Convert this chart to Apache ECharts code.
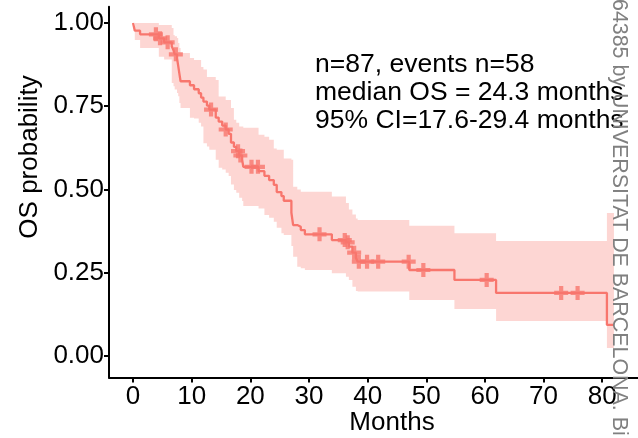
<!DOCTYPE html>
<html>
<head>
<meta charset="utf-8">
<script src="https://cdn.jsdelivr.net/npm/echarts@6/dist/echarts.min.js"></script>
<style>
html,body{margin:0;padding:0;background:#fff;}
#chart{width:638px;height:438px;}
</style>
</head>
<body>
<div id="chart"></div>
<script>
// Kaplan-Meier step times (months) and survival after each step
var kmTimes = [0, 0.3, 1.2, 4.4, 5.3, 6.6, 6.9, 7.1, 7.5, 7.7, 7.9, 8.1, 9.7, 10.4, 11.2, 11.6, 12.0, 12.6, 13.0, 14.1, 14.6, 15.2, 15.8, 16.3, 16.7, 17.2, 17.6, 18.1, 18.6, 18.8, 21.4, 22.4, 23.2, 24.0, 24.5, 25.3, 25.7, 27.0, 27.3, 28.0, 28.6, 29.3, 33.9, 36.3, 36.8, 37.4, 38.0, 38.3, 47.1, 54.8, 61.9, 80.8, 82];
var kmSurv  = [1, 0.977, 0.966, 0.954, 0.942, 0.930, 0.918, 0.906, 0.894, 0.871, 0.848, 0.825, 0.813, 0.801, 0.789, 0.776, 0.764, 0.752, 0.740, 0.716, 0.704, 0.692, 0.680, 0.667, 0.641, 0.628, 0.615, 0.602, 0.589, 0.568, 0.555, 0.541, 0.528, 0.514, 0.492, 0.480, 0.466, 0.430, 0.393, 0.388, 0.378, 0.365, 0.348, 0.341, 0.328, 0.310, 0.295, 0.283, 0.258, 0.228, 0.189, 0.093, 0.093];
var ciUpper = [1, 1, 1, 0.994, 0.994, 0.985, 0.964, 0.960, 0.955, 0.940, 0.925, 0.910, 0.895, 0.889, 0.889, 0.868, 0.860, 0.838, 0.838, 0.829, 0.779, 0.779, 0.769, 0.769, 0.745, 0.709, 0.700, 0.689, 0.689, 0.685, 0.664, 0.658, 0.649, 0.623, 0.619, 0.619, 0.593, 0.589, 0.508, 0.500, 0.493, 0.493, 0.479, 0.459, 0.440, 0.425, 0.413, 0.408, 0.391, 0.368, 0.345, 0.429, 0.429];
var ciLower = [1, 0.949, 0.925, 0.899, 0.890, 0.820, 0.810, 0.800, 0.790, 0.780, 0.760, 0.745, 0.715, 0.713, 0.700, 0.689, 0.639, 0.629, 0.619, 0.589, 0.565, 0.560, 0.550, 0.540, 0.515, 0.498, 0.490, 0.475, 0.465, 0.450, 0.443, 0.423, 0.415, 0.403, 0.385, 0.368, 0.363, 0.330, 0.298, 0.268, 0.263, 0.258, 0.248, 0.238, 0.228, 0.208, 0.195, 0.193, 0.168, 0.141, 0.105, 0.024, 0.024];
// censoring times (months)
var censorTimes = [3.9, 4.6, 5.9, 7.3, 13.3, 15.8, 17.9, 18.3, 20.2, 21.3, 31.8, 36.1, 36.6, 37.7, 38.5, 39.9, 41.8, 47.0, 49.5, 60.3, 73.0, 75.8];
// axis ticks
var xTicks = [0, 10, 20, 30, 40, 50, 60, 70, 80];
var yTicks = [0, 0.25, 0.5, 0.75, 1];
var xTitle = 'Months';
var yTitle = 'OS probability';
var annotationLines = ['n=87, events n=58', 'median OS = 24.3 months', '95% CI=17.6-29.4 months'];
var watermark = '64385 by UNIVERSITAT DE BARCELONA. Bi';

function survAt(t) {
  var s = kmSurv[0];
  for (var i = 0; i < kmTimes.length; i++) { if (kmTimes[i] <= t) s = kmSurv[i]; }
  return s;
}

var lineData = kmTimes.map(function (t, i) { return [t, kmSurv[i]]; });
var bandData = kmTimes.map(function (t, i) { return [t, ciLower[i], ciUpper[i]]; });
var censorData = censorTimes.map(function (t) { return [t, survAt(t)]; });

var COL = '#F8766D';
var FONT = 'Liberation Sans, Arial, Helvetica, sans-serif';

function renderBand(params, api) {
  if (params.dataIndex !== 0) return;
  var n = kmTimes.length, pts = [], i;
  for (i = 0; i < n - 1; i++) {
    pts.push(api.coord([kmTimes[i], ciUpper[i]]));
    pts.push(api.coord([kmTimes[i + 1], ciUpper[i]]));
  }
  for (i = n - 2; i >= 0; i--) {
    pts.push(api.coord([kmTimes[i + 1], ciLower[i]]));
    pts.push(api.coord([kmTimes[i], ciLower[i]]));
  }
  return {type: 'polygon', shape: {points: pts}, style: {fill: 'rgba(248,118,109,0.3)', stroke: null}};
}

var chart = echarts.init(document.getElementById('chart'), null, {renderer: 'canvas'});
chart.setOption({
  animation: false,
  backgroundColor: '#ffffff',
  grid: {left: 109, top: 6.7, width: 548, height: 370.8, containLabel: false},
  xAxis: {
    type: 'value', min: -4.1, max: 86.1,
    axisLine: {show: true, onZero: false, lineStyle: {color: '#000', width: 2}},
    axisTick: {show: true, length: 5, lineStyle: {color: '#000', width: 2}, customValues: xTicks},
    axisLabel: {fontSize: 26, color: '#000', fontFamily: FONT, margin: 6, customValues: xTicks},
    splitLine: {show: false}
  },
  yAxis: {
    type: 'value', min: -0.065, max: 1.049,
    axisLine: {show: true, onZero: false, lineStyle: {color: '#000', width: 2}},
    axisTick: {show: true, length: 5, lineStyle: {color: '#000', width: 2}, customValues: yTicks},
    axisLabel: {fontSize: 26, color: '#000', fontFamily: FONT, margin: 5, customValues: yTicks,
      formatter: function (v) { return v.toFixed(2); }},
    splitLine: {show: false}
  },
  series: [
    {type: 'custom', name: 'ci', data: bandData, encode: {x: 0, y: [1, 2]}, renderItem: renderBand, silent: true, z: 1},
    {type: 'line', name: 'km', data: lineData, step: 'end', symbol: 'none',
     lineStyle: {color: COL, width: 2.3}, z: 3},
    {type: 'scatter', name: 'censor', data: censorData,
     symbol: 'path://M3.5,0H6.5V3.5H10V6.5H6.5V10H3.5V6.5H0V3.5H3.5Z', symbolSize: 14,
     itemStyle: {color: COL}, z: 4}
  ],
  graphic: [
    {type: 'text', x: 392, y: 423, style: {text: xTitle, font: '26px ' + FONT, fill: '#000', align: 'center', verticalAlign: 'middle'}, z: 10},
    {type: 'text', x: 30, y: 157, rotation: Math.PI / 2, style: {text: yTitle, font: '26px ' + FONT, fill: '#000', align: 'center', verticalAlign: 'middle'}, z: 10},
    {type: 'text', x: 315, y: 64.5, style: {text: annotationLines[0], font: '26.5px ' + FONT, fill: '#000', align: 'left', verticalAlign: 'middle'}, z: 10},
    {type: 'text', x: 315, y: 92.5, style: {text: annotationLines[1], font: '26.5px ' + FONT, fill: '#000', align: 'left', verticalAlign: 'middle'}, z: 10},
    {type: 'text', x: 315, y: 120.5, style: {text: annotationLines[2], font: '26.5px ' + FONT, fill: '#000', align: 'left', verticalAlign: 'middle'}, z: 10},
    {type: 'text', x: 619, y: -1, rotation: -Math.PI / 2, style: {text: watermark, font: '21.4px ' + FONT, fill: '#808080', align: 'left', verticalAlign: 'middle'}, z: 11}
  ]
});
</script>
</body>
</html>
